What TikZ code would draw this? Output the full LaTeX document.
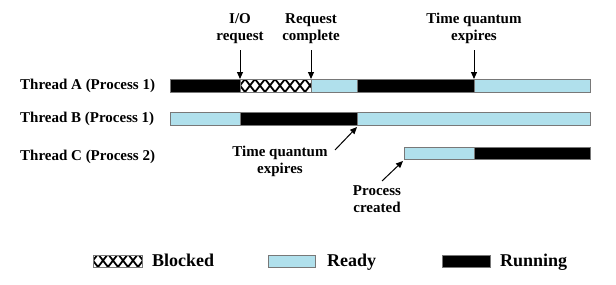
\documentclass[tikz,border=0pt]{standalone}
\usepackage{fontspec}
\setmainfont{Liberation Serif}
\usetikzlibrary{arrows.meta}
\definecolor{readyblue}{RGB}{176,224,236}
\definecolor{edgegray}{RGB}{120,120,120}
\begin{document}
\begin{tikzpicture}[x=1pt,y=-1pt,
  seg/.style={draw=edgegray,line width=0.9pt,inner sep=0pt,outer sep=0pt,minimum height=13pt,anchor=north west},
  run/.style={seg,fill=black},
  rdy/.style={seg,fill=readyblue},
  blk/.style={seg,fill=white,path picture={
      \foreach \i in {-15,-5,...,95} {
        \draw[draw=black,line width=1.8pt] ([xshift=\i pt]path picture bounding box.south west) -- ++(10pt,13pt);
        \draw[draw=black,line width=1.8pt] ([xshift=\i pt]path picture bounding box.south west) -- ++(-10pt,13pt);
      }}},
  lbl/.style={font=\fontsize{15}{17}\selectfont\bfseries,inner sep=0pt,align=center},
  thr/.style={font=\fontsize{15}{17}\selectfont\bfseries,inner sep=0pt,anchor=west},
  leg/.style={font=\fontsize{18}{20}\selectfont\bfseries,inner sep=0pt,anchor=base west},
  arr/.style={-{Triangle[length=7pt,width=6pt]},line width=1pt}]
\useasboundingbox[fill=white] (0,0) rectangle (616,284);

% thread labels
\node[thr] (ta) at (20,85.5) {Thread A (Process 1)};
\node[thr] (tb) at (20,118.5) {Thread B (Process 1)};
\node[thr] (tc) at (20,157) {Thread C (Process 2)};

% Thread A
\node[run, minimum width=70pt] (a1) at (170,79) {};
\node[blk, minimum width=71pt] (a2) at (240,79) {};
\node[rdy, minimum width=46pt] (a3) at (311,79) {};
\node[run, minimum width=117pt] (a4) at (357,79) {};
\node[rdy, minimum width=116pt] (a5) at (474,79) {};

% Thread B
\node[rdy, minimum width=70pt] (b1) at (170,112) {};
\node[run, minimum width=117pt] (b2) at (240,112) {};
\node[rdy, minimum width=233pt] (b3) at (357,112) {};

% Thread C
\node[rdy, minimum width=70pt, minimum height=12pt] (c1) at (404,147) {};
\node[run, minimum width=116pt, minimum height=12pt] (c2) at (474,147) {};

% top labels
\node[lbl, anchor=south] (io) at (240,44) {I/O\\request};
\node[lbl, anchor=south] (rc) at (311,44) {Request\\complete};
\node[lbl, anchor=south] (tq) at (474,44) {Time quantum\\expires};
\draw[arr] ([yshift=-6pt]io.south) -- (a2.north west);
\draw[arr] ([yshift=-6pt]rc.south) -- (a3.north west);
\draw[arr] ([yshift=-6pt]tq.south) -- (a5.north west);

% lower labels
\node[lbl, anchor=south] (tq2) at (280,177) {Time quantum\\expires};
\coordinate (tq2s) at (335,150);
\draw[arr] (tq2s) -- ([yshift=-2pt]b2.south east);

\node[lbl, anchor=north] (pc) at (377,185) {Process\\created};
\coordinate (pcs) at (382,181);
\draw[arr] (pcs) -- ([xshift=-1pt,yshift=-2pt]c1.south west);

% legend
\node[blk, minimum width=49pt, minimum height=12pt] (lb) at (93,255) {};
\node[leg] (lbt) at (152,266) {Blocked};
\node[rdy, minimum width=47pt, minimum height=12pt] (lr) at (268,255) {};
\node[leg] (lrt) at (327,266) {Ready};
\node[run, minimum width=48pt, minimum height=12pt] (lu) at (442,255) {};
\node[leg] (lut) at (500,266) {Running};
\end{tikzpicture}
\end{document}
